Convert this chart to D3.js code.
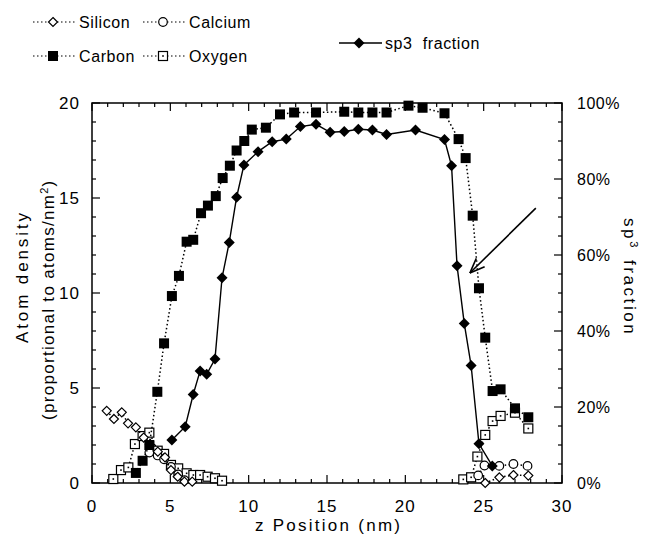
<!DOCTYPE html>
<html>
<head>
<meta charset="utf-8">
<script src="https://cdn.jsdelivr.net/npm/d3@7"></script>
<style>
  body { margin: 0; background: #fff; }
  text { font-family: "Liberation Sans", Arial, sans-serif; fill: #000; }
</style>
</head>
<body>
<div id="chart"></div>
<script>
// z position (nm), atom density
const carbon = [
  [2.8,0.53],[3.23,1.17],[3.66,2.0],[4.17,4.8],[4.6,7.35],[5.1,9.84],[5.55,10.9],[6.04,12.7],[6.46,12.8],
  [6.96,14.2],[7.4,14.6],[7.9,15.1],[8.34,16.05],[8.8,16.7],[9.23,17.5],[9.72,18.0],[10.2,18.6],[11.1,18.7],
  [12.0,19.4],[12.9,19.5],[14.3,19.5],[16.1,19.54],[17.0,19.5],[17.9,19.5],[18.8,19.5],[20.2,19.86],
  [21.1,19.75],[22.5,19.46],[23.4,18.1],[23.85,17.1],[24.3,14.07],[24.7,10.25],[25.1,7.65],[25.57,4.84],
  [26.08,4.93],[27.0,3.93],[27.85,3.46]
];
const silicon = [
  [0.94,3.8],[1.4,3.37],[1.9,3.72],[2.3,3.14],[2.8,2.93],[3.3,2.39],[3.7,2.03],[4.2,1.65],[4.66,1.35],
  [5.04,0.68],[5.47,0.33],[5.9,0.07],[6.4,0.07],
  [25.1,0.0],[26.0,0.3],[26.9,0.42],[27.85,0.39]
];
const calcium = [
  [3.66,1.6],[4.19,1.45],[4.6,1.25],[5.04,0.85],[5.5,0.45],[5.9,0.15],
  [24.65,0.4],[25.05,0.92],[26.0,0.9],[26.9,1.0],[27.8,0.9]
];
const oxygen = [
  [1.36,0.21],[1.85,0.68],[2.32,0.82],[2.74,2.05],[3.23,2.47],[3.66,2.65],[4.19,1.7],[4.6,1.53],[5.04,0.95],
  [5.5,0.77],[6.04,0.51],[6.47,0.42],[6.9,0.42],[7.38,0.33],[7.85,0.25],[8.3,0.12],
  [23.7,0.19],[24.2,0.3],[24.6,1.39],[25.1,2.53],[25.57,3.26],[26.08,3.53],[27.0,3.7],[27.85,2.87]
];
// z position (nm), sp3 fraction (%)
const sp3 = [
  [5.1,11.3],[5.95,14.8],[6.46,23.3],[6.9,29.5],[7.32,28.6],[7.85,32.6],[8.3,54],[8.76,63.3],[9.23,75.2],
  [9.7,83.7],[10.6,87.2],[11.5,89.8],[12.4,90.5],[13.3,93.8],[14.3,94.4],[15.2,92.3],[16.1,92.5],[17.0,93.1],
  [17.9,92.9],[18.8,91.7],[20.65,92.9],[22.5,90.4],[22.95,83.5],[23.3,57.2],[23.76,42.0],[24.2,30.9],
  [24.7,10.3],[25.55,4.5]
];
const xTicks = [0, 5, 10, 15, 20, 25, 30];
const yTicks = [0, 5, 10, 15, 20];
const pctTicks = [0, 20, 40, 60, 80, 100];
const arrowFrom = [28.33, 14.47], arrowTo = [24.12, 11.05];

const W = 652, H = 545;
const L = 92, T = 103, R = 562, B = 483;

const svg = d3.select("#chart").append("svg").attr("width", W).attr("height", H);
const x = d3.scaleLinear().domain([0, 30]).range([L, R]);
const y = d3.scaleLinear().domain([0, 20]).range([B, T]);
const yp = d3.scaleLinear().domain([0, 100]).range([B, T]);

// frame + inward ticks
svg.append("rect").attr("x", L).attr("y", T).attr("width", R - L).attr("height", B - T)
  .attr("fill", "none").attr("stroke", "#000").attr("stroke-width", 1.5);

const tk = svg.append("g").attr("stroke", "#000").attr("stroke-width", 1.2);
d3.range(0, 31).forEach(v => {
  const len = v % 5 === 0 ? 8 : 4;
  tk.append("line").attr("x1", x(v)).attr("x2", x(v)).attr("y1", B).attr("y2", B - len);
  tk.append("line").attr("x1", x(v)).attr("x2", x(v)).attr("y1", T).attr("y2", T + len);
});
d3.range(0, 21).forEach(v => {
  const len = v % 5 === 0 ? 8 : 4;
  tk.append("line").attr("x1", L).attr("x2", L + len).attr("y1", y(v)).attr("y2", y(v));
});
d3.range(0, 101, 5).forEach(v => {
  const len = v % 20 === 0 ? 8 : 4;
  tk.append("line").attr("x1", R).attr("x2", R - len).attr("y1", yp(v)).attr("y2", yp(v));
});

svg.selectAll(".xl").data(xTicks).join("text").attr("class", "xl")
  .attr("x", d => x(d)).attr("y", 512).attr("text-anchor", "middle")
  .style("font-size", "17px").style("letter-spacing", "1px").text(d => d);
svg.selectAll(".yl").data(yTicks).join("text").attr("class", "yl")
  .attr("x", 80).attr("y", d => y(d) + 6).attr("text-anchor", "end")
  .style("font-size", "17px").style("letter-spacing", "1px").text(d => d);
svg.selectAll(".pl").data(pctTicks).join("text").attr("class", "pl")
  .attr("x", 577).attr("y", d => yp(d) + 6)
  .style("font-size", "16px").style("letter-spacing", "0.5px").text(d => d + "%");

// axis titles
svg.append("text").attr("x", 255).attr("y", 531)
  .attr("textLength", 145).attr("lengthAdjust", "spacing")
  .style("font-size", "17px").text("z Position (nm)");
svg.append("text").attr("transform", "translate(28,343) rotate(-90)")
  .attr("textLength", 130).attr("lengthAdjust", "spacing")
  .style("font-size", "17px").text("Atom density");
const t2 = svg.append("text").attr("transform", "translate(54,420) rotate(-90)")
  .style("font-size", "17px").style("letter-spacing", "1.3px");
t2.append("tspan").text("(proportional to atoms/nm");
t2.append("tspan").attr("baseline-shift", "super").style("font-size", "11px").text("2");
t2.append("tspan").text(")");
const t3 = svg.append("text").attr("transform", "translate(624,218) rotate(90)")
  .style("font-size", "17px").style("letter-spacing", "2.6px");
t3.append("tspan").text("sp");
t3.append("tspan").attr("baseline-shift", "super").style("font-size", "11px").text("3");
t3.append("tspan").attr("dx", 10).text("fraction");

// markers
function marker(g, type, cx, cy) {
  if (type === "fsq") {
    g.append("rect").attr("x", cx - 5).attr("y", cy - 5).attr("width", 10).attr("height", 10).attr("fill", "#000");
  } else if (type === "fdia") {
    g.append("path").attr("d", `M${cx},${cy - 5.5}L${cx + 5.5},${cy}L${cx},${cy + 5.5}L${cx - 5.5},${cy}Z`).attr("fill", "#000");
  } else if (type === "odia") {
    g.append("path").attr("d", `M${cx},${cy - 4.5}L${cx + 4.5},${cy}L${cx},${cy + 4.5}L${cx - 4.5},${cy}Z`)
      .attr("fill", "#fff").attr("stroke", "#000").attr("stroke-width", 1.2);
  } else if (type === "ocir") {
    g.append("circle").attr("cx", cx).attr("cy", cy).attr("r", 4.3)
      .attr("fill", "#fff").attr("stroke", "#000").attr("stroke-width", 1.2);
  } else if (type === "osq") {
    g.append("rect").attr("x", cx - 4.5).attr("y", cy - 4.5).attr("width", 9).attr("height", 9)
      .attr("fill", "#fff").attr("stroke", "#000").attr("stroke-width", 1.2);
    g.append("rect").attr("x", cx - 0.8).attr("y", cy - 0.8).attr("width", 1.6).attr("height", 1.6).attr("fill", "#000");
  }
}

function series(data, yScale, type, dotted) {
  const g = svg.append("g");
  const segs = [];
  let cur = [];
  data.forEach((d, i) => {
    if (i > 0 && d[0] - data[i - 1][0] > 5) { segs.push(cur); cur = []; }
    cur.push(d);
  });
  segs.push(cur);
  const line = d3.line().x(d => x(d[0])).y(d => yScale(d[1]));
  segs.forEach(s => {
    g.append("path").attr("d", line(s)).attr("fill", "none").attr("stroke", "#000")
      .attr("stroke-width", dotted ? 1.5 : 1.4)
      .attr("stroke-dasharray", dotted ? "1.5,2.5" : null);
  });
  data.forEach(d => marker(g, type, x(d[0]), yScale(d[1])));
}

series(oxygen, y, "osq", true);
series(calcium, y, "ocir", true);
series(silicon, y, "odia", true);
series(carbon, y, "fsq", true);
series(sp3, yp, "fdia", false);

// arrow
const ax1 = x(arrowFrom[0]), ay1 = y(arrowFrom[1]), ax2 = x(arrowTo[0]), ay2 = y(arrowTo[1]);
svg.append("line").attr("x1", ax1).attr("y1", ay1).attr("x2", ax2).attr("y2", ay2)
  .attr("stroke", "#000").attr("stroke-width", 1.6);
const ang = Math.atan2(ay1 - ay2, ax1 - ax2);
[0.38, -0.38].forEach(da => {
  svg.append("line").attr("x1", ax2).attr("y1", ay2)
    .attr("x2", ax2 + 16 * Math.cos(ang + da)).attr("y2", ay2 + 16 * Math.sin(ang + da))
    .attr("stroke", "#000").attr("stroke-width", 1.6);
});

// legend
const legend = [
  { name: "Silicon", type: "odia", lx: 33, ly: 22, dotted: true },
  { name: "Calcium", type: "ocir", lx: 143, ly: 22, dotted: true },
  { name: "Carbon", type: "fsq", lx: 33, ly: 56, dotted: true },
  { name: "Oxygen", type: "osq", lx: 143, ly: 56, dotted: true },
  { name: "sp3  fraction", type: "fdia", lx: 339, ly: 43, dotted: false }
];
legend.forEach(it => {
  const g = svg.append("g");
  g.append("line").attr("x1", it.lx).attr("x2", it.lx + 43).attr("y1", it.ly).attr("y2", it.ly)
    .attr("stroke", "#000").attr("stroke-width", it.dotted ? 1.2 : 1.4)
    .attr("stroke-dasharray", it.dotted ? "1.5,2.5" : null);
  marker(g, it.type, it.lx + 20, it.ly);
  g.append("text").attr("x", it.lx + 46).attr("y", it.ly + 6).style("font-size", "16px")
    .style("letter-spacing", "0.6px").style("white-space", "pre").text(it.name);
});
</script>
</body>
</html>
